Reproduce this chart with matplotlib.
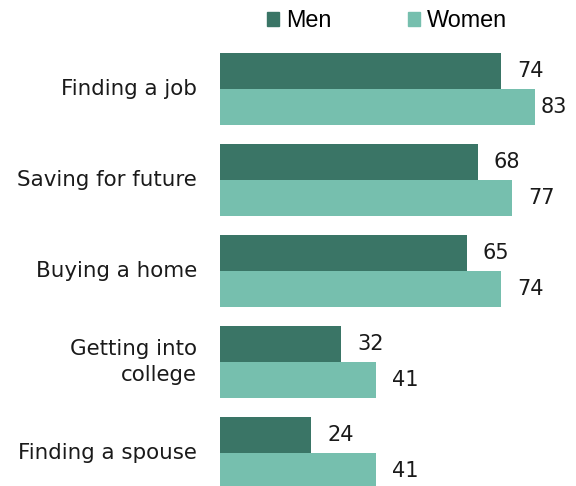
import numpy as np
import matplotlib.pyplot as plt
from matplotlib.patches import Patch

categories = ['Finding a job', 'Saving for future', 'Buying a home',
              'Getting into\ncollege', 'Finding a spouse']
men = [74, 68, 65, 32, 24]
women = [83, 77, 74, 41, 41]

verde_oscuro = '#3a7566'
verde_claro = '#76bfae'

fig = plt.figure(figsize=(5.76, 4.86), dpi=100)
ax = fig.add_axes([220/576, 0, 356/576, 1])

y = np.arange(len(categories))
h = 0.4
ax.barh(y - h/2, men, height=h, color=verde_oscuro, edgecolor='none')
ax.barh(y + h/2, women, height=h, color=verde_claro, edgecolor='none')

ax.set_xlim(0, 356/3.795)
ax.set_ylim(4.363, -0.978)

# etiquetas de valores a la derecha de cada barra
for i in range(len(categories)):
    ax.text(min(men[i] + 4.2, 84.6), y[i] - h/2, str(men[i]),
            va='center', ha='left', fontsize=15, color='#1a1a1a')
    ax.text(min(women[i] + 4.2, 84.6), y[i] + h/2, str(women[i]),
            va='center', ha='left', fontsize=15, color='#1a1a1a')

# nombres de categorias
for i, cat in enumerate(categories):
    ax.text(-23/3.795, y[i], cat, ha='right', va='center',
            fontsize=15.4, color='#1a1a1a', linespacing=1.4)

ax.axis('off')

handles = [Patch(color=verde_oscuro, label='Men'),
           Patch(color=verde_claro, label='Women')]
fig.legend(handles=handles, loc='center', bbox_to_anchor=(0.672, 0.957),
           ncol=2, frameon=False, handlelength=0.5, handleheight=0.5,
           handletextpad=0.3, columnspacing=3.3,
           prop={'family': 'Liberation Sans', 'size': 16.8})

fig.savefig('out.png', dpi=100)
